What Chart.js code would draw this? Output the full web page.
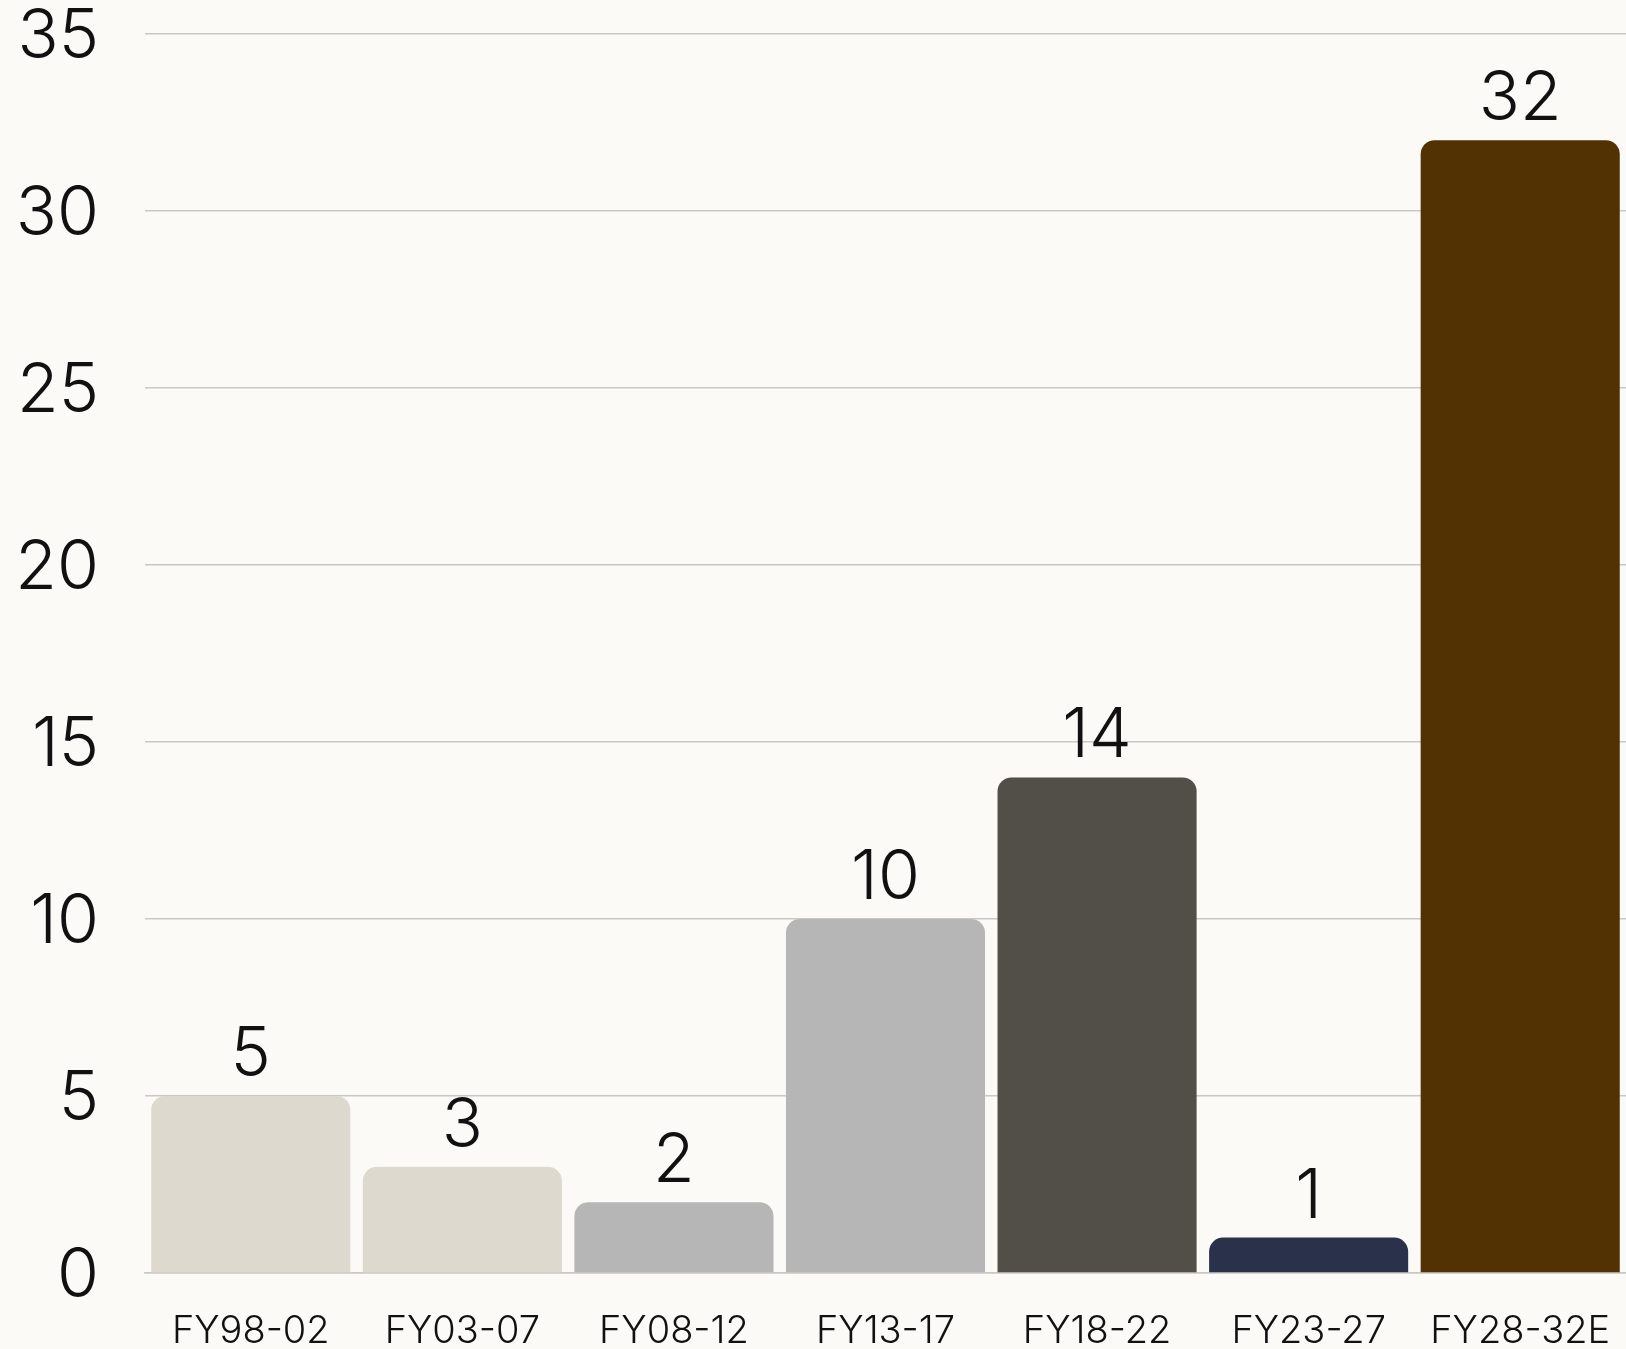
<!DOCTYPE html>
<html>
<head>
<meta charset="utf-8">
<script src="https://cdn.jsdelivr.net/npm/chart.js@4/dist/chart.umd.min.js"></script>
<style>
  html, body { margin: 0; padding: 0; background: #fbfaf6; }
  #wrap { width: 1626px; height: 1349px; position: relative; }
</style>
</head>
<body>
<div id="wrap"><canvas id="bars"></canvas></div>
<script>
var labels = ['FY98-02', 'FY03-07', 'FY08-12', 'FY13-17', 'FY18-22', 'FY23-27', 'FY28-32E'];
var values = [5, 3, 2, 10, 14, 1, 32];
var colors = ['#ddd9ce', '#ddd9ce', '#b6b6b6', '#b6b6b6', '#524e48', '#2a324b', '#523202'];
var yTicks = [0, 5, 10, 15, 20, 25, 30, 35];

var fontFamily = 'Inter, "Noto Sans", sans-serif';

// value above each bar, placed from the bar elements the library laid out
var valueLabels = {
    id: 'valueLabels',
    afterDatasetsDraw: function(chart){
        var ctx = chart.ctx;
        var meta = chart.getDatasetMeta(0);
        ctx.save();
        ctx.font = '300 68px ' + fontFamily;
        ctx.fillStyle = '#111111';
        ctx.textAlign = 'center';
        ctx.textBaseline = 'alphabetic';
        meta.data.forEach(function(bar, i){
            ctx.fillText(String(values[i]), bar.x, bar.y - 20);
        });
        ctx.restore();
    }
};

var ctx = document.getElementById('bars').getContext('2d');
var barChart = new Chart(ctx, {
    type: 'bar',
    data: {
        labels: labels,
        datasets: [{
            data: values,
            backgroundColor: colors,
            borderWidth: 0,
            borderRadius: { topLeft: 14, topRight: 14, bottomLeft: 0, bottomRight: 0 },
            borderSkipped: 'start',
            categoryPercentage: 0.941,
            barPercentage: 1.0
        }]
    },
    options: {
        responsive: true,
        maintainAspectRatio: false,
        animation: false,
        layout: { padding: 0 },
        plugins: {
            legend: { display: false },
            tooltip: { enabled: false }
        },
        scales: {
            x: {
                grid: { display: false },
                border: { display: true, color: '#c9c8c3', width: 1.5 },
                ticks: {
                    color: '#111111',
                    padding: 32,
                    font: { family: fontFamily, size: 38, weight: 300, lineHeight: 1.0 }
                },
                afterFit: function(axis){
                    axis.height = 76;
                    axis.paddingLeft = 0;
                    axis.paddingRight = 0;
                }
            },
            y: {
                min: 0,
                max: 35,
                afterBuildTicks: function(axis){
                    axis.ticks = yTicks.map(function(v){ return { value: v }; });
                },
                grid: { color: '#c9c8c3', lineWidth: 1.5, drawTicks: false },
                border: { display: false },
                ticks: {
                    color: '#111111',
                    padding: 46,
                    labelOffset: 4,
                    font: { family: fontFamily, size: 68, weight: 300, lineHeight: 1.0 }
                },
                afterFit: function(axis){
                    axis.width = 145;
                    axis.paddingTop = 34;
                    axis.paddingBottom = 0;
                }
            }
        }
    },
    plugins: [valueLabels]
});
</script>
</body>
</html>
